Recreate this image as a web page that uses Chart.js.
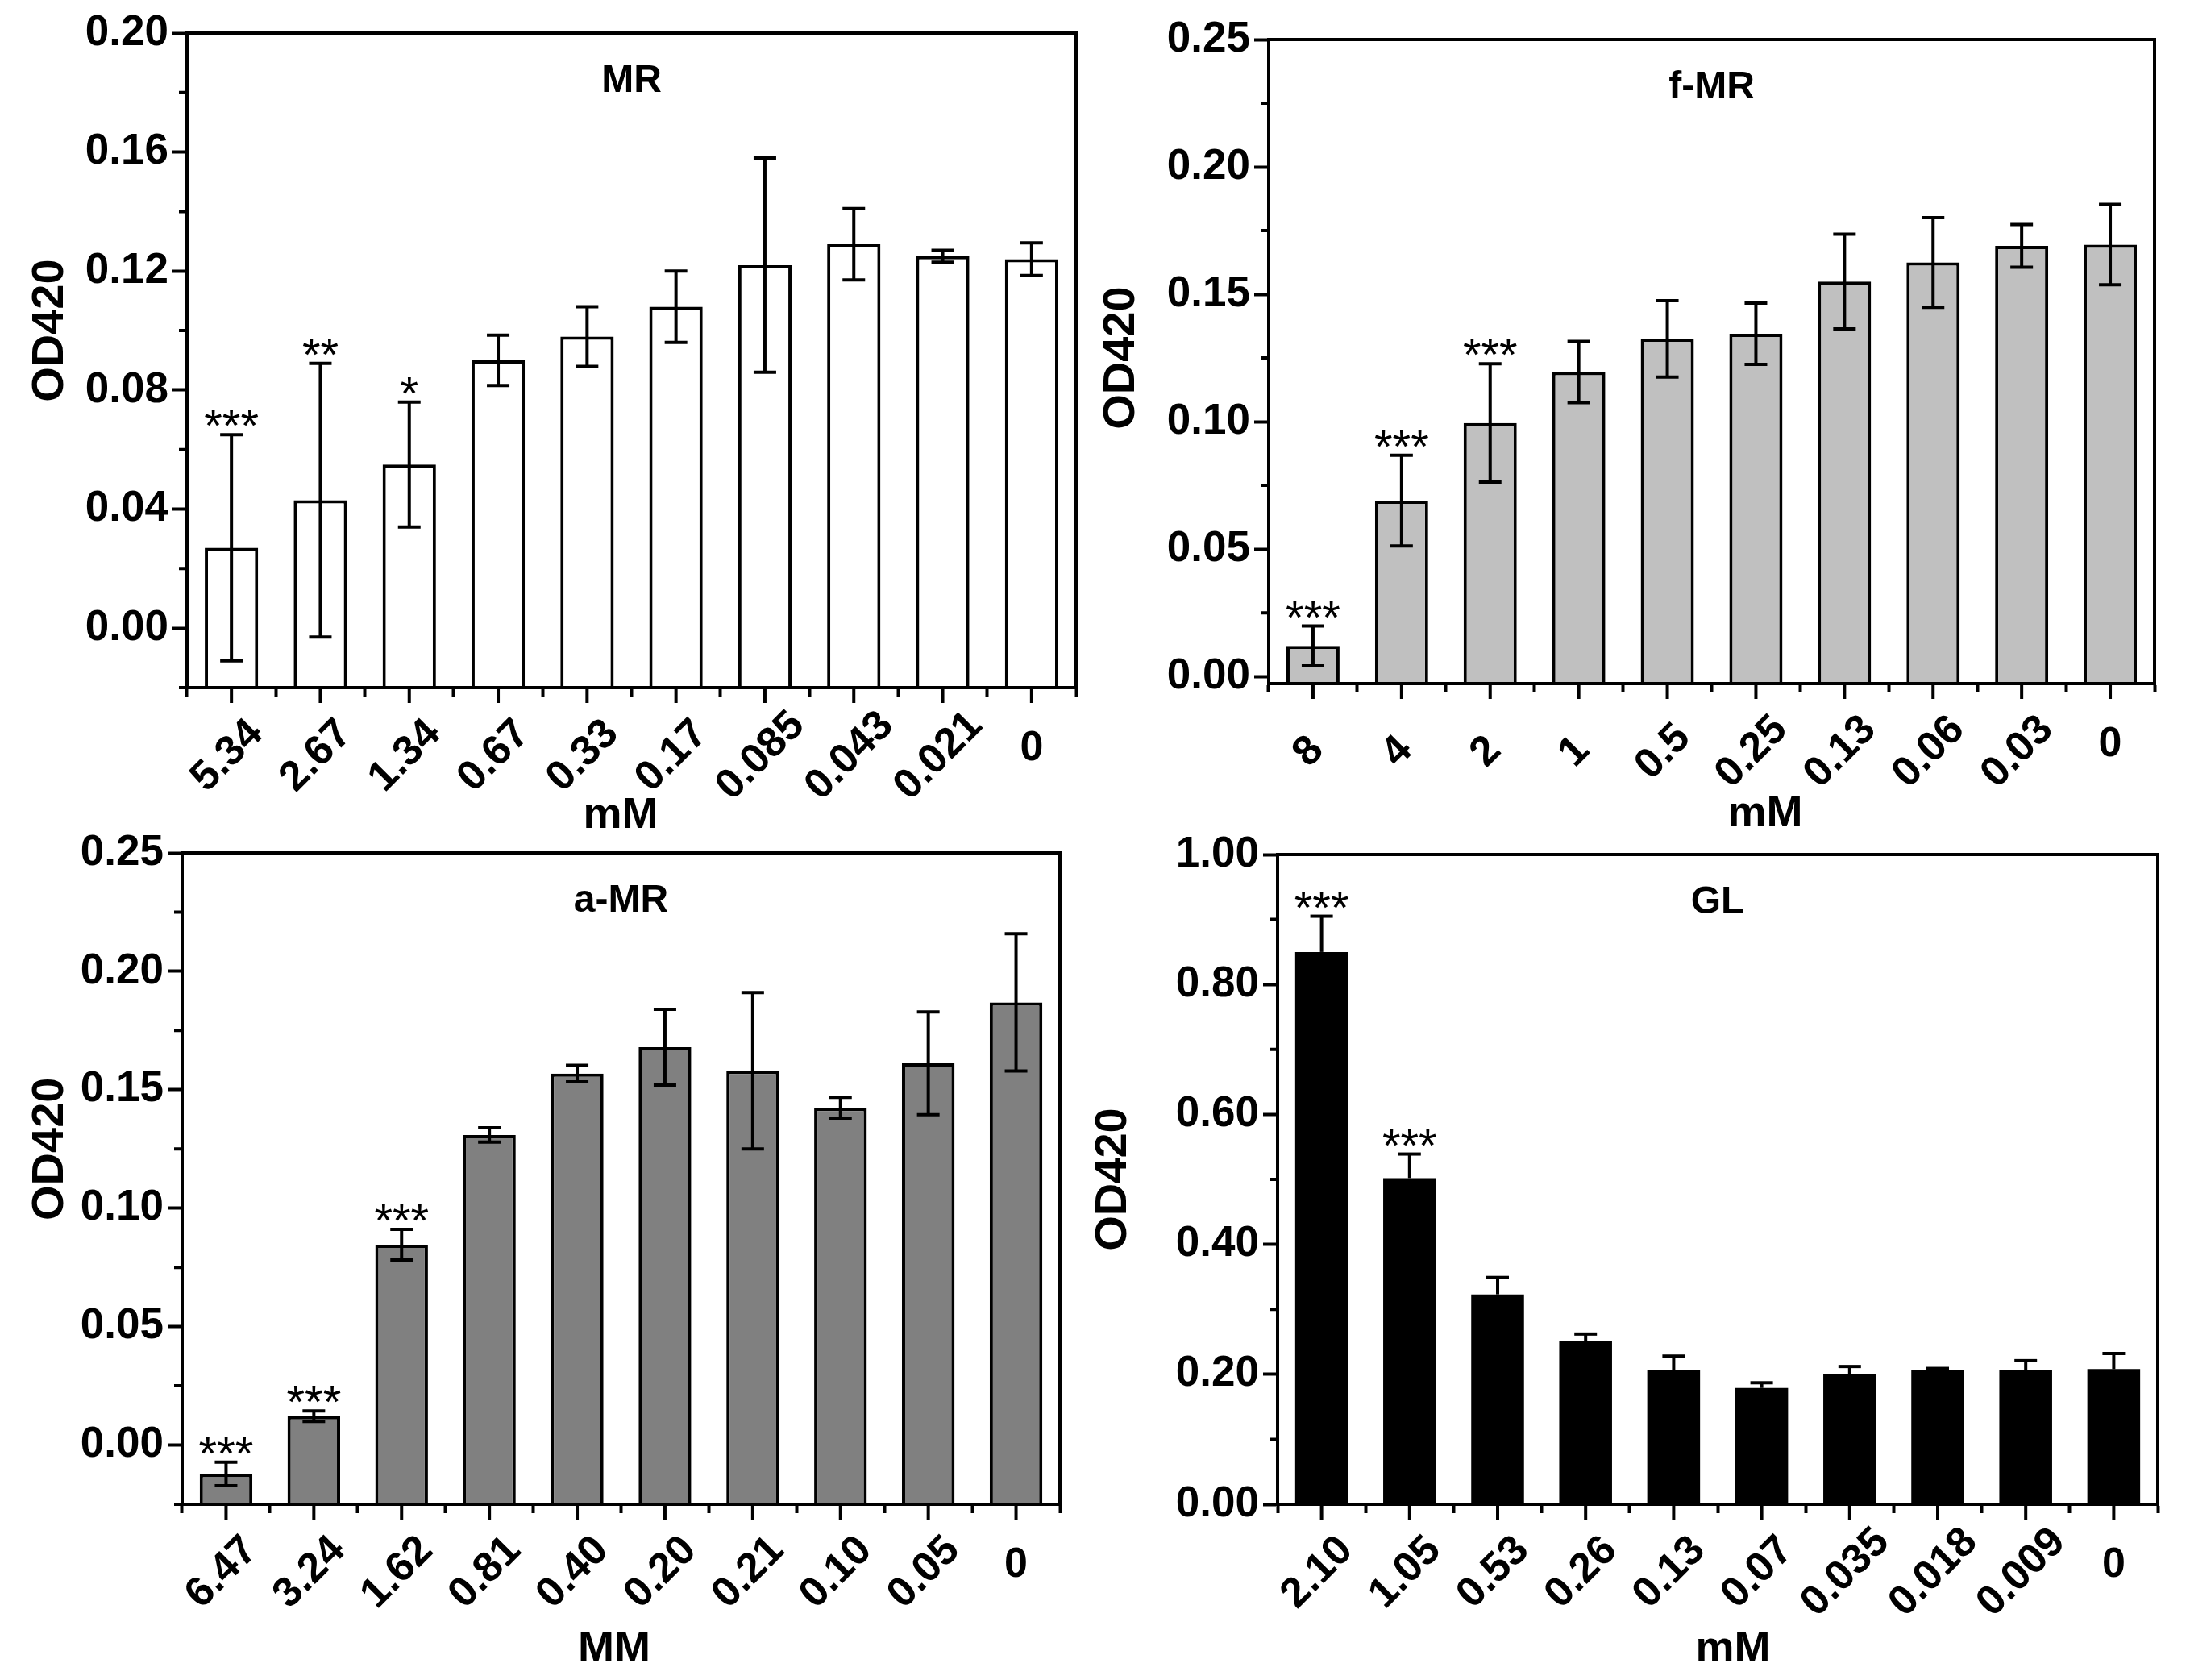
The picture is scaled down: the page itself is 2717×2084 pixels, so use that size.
<!DOCTYPE html>
<html>
<head>
<meta charset="utf-8">
<script src="https://cdn.jsdelivr.net/npm/chart.js@4.4.1/dist/chart.umd.min.js"></script>
<style>
html,body{margin:0;padding:0;background:#fff;}
#wrap{position:relative;width:2717px;height:2084px;background:#fff;overflow:hidden;}
canvas{position:absolute;}
</style>
</head>
<body>
<div id="wrap"></div>
<script>
// ---------- DATA ----------
const mrLabels  = ['5.34','2.67','1.34','0.67','0.33','0.17','0.085','0.043','0.021','0'];
const mrValues  = [0.027, 0.043, 0.055, 0.090, 0.098, 0.108, 0.122, 0.129, 0.125, 0.124];
const mrErrors  = [0.038, 0.046, 0.021, 0.0085, 0.010, 0.012, 0.036, 0.012, 0.002, 0.0055];
const mrStars   = ['***','**','*','','','','','','',''];
const mrTicks   = [0.00, 0.04, 0.08, 0.12, 0.16, 0.20];
const mrMinor   = [-0.02, 0.02, 0.06, 0.10, 0.14, 0.18];

const fmrLabels = ['8','4','2','1','0.5','0.25','0.13','0.06','0.03','0'];
const fmrValues = [0.012, 0.069, 0.0995, 0.1195, 0.1325, 0.1345, 0.155, 0.1625, 0.169, 0.1695];
const fmrErrors = [0.0078, 0.0178, 0.0232, 0.012, 0.015, 0.012, 0.0186, 0.0176, 0.0084, 0.0158];
const fmrStars  = ['***','***','***','','','','','','',''];
const fmrTicks  = [0.00, 0.05, 0.10, 0.15, 0.20, 0.25];
const fmrMinor  = [0.025, 0.075, 0.125, 0.175, 0.225];

const amrLabels = ['6.47','3.24','1.62','0.81','0.40','0.20','0.21','0.10','0.05','0'];
const amrValues = [-0.0122, 0.0122, 0.0846, 0.1309, 0.1568, 0.168, 0.158, 0.1424, 0.1612, 0.1869];
const amrErrors = [0.005, 0.0022, 0.0065, 0.003, 0.0035, 0.016, 0.033, 0.0044, 0.0217, 0.029];
const amrStars  = ['***','***','***','','','','','','',''];
const amrTicks  = [0.00, 0.05, 0.10, 0.15, 0.20, 0.25];
const amrMinor  = [-0.025, 0.025, 0.075, 0.125, 0.175, 0.225];

const glLabels  = ['2.10','1.05','0.53','0.26','0.13','0.07','0.035','0.018','0.009','0'];
const glValues  = [0.850, 0.502, 0.323, 0.251, 0.206, 0.179, 0.201, 0.207, 0.207, 0.208];
const glErrors  = [0.055, 0.037, 0.026, 0.011, 0.022, 0.008, 0.011, 0.002, 0.014, 0.024];
const glStars   = ['***','***','','','','','','','',''];
const glTicks   = [0.00, 0.20, 0.40, 0.60, 0.80, 1.00];
const glMinor   = [0.10, 0.30, 0.50, 0.70, 0.90];

// ---------- LAYOUT ----------
const FONT = '"Liberation Sans", Arial, Helvetica, sans-serif';
Chart.defaults.font.family = FONT;
Chart.defaults.color = '#000';

const panels = [
  {id:'p1', box:[0,0,1358,1060], plot:[232,41,1335,853], title:'MR', xTitle:'mM', xTitlePos:[770,1012], yTitleX:63,
   labels:mrLabels, values:mrValues, errors:mrErrors, stars:mrStars, ticks:mrTicks, minor:mrMinor,
   yMin:-0.02, yMax:0.20, fill:'#ffffff', border:4, upOnly:false},
  {id:'p2', box:[1358,0,1359,1060], plot:[1574,49,2673,848], title:'f-MR', xTitle:'mM', xTitlePos:[2190,1010], yTitleX:1392,
   labels:fmrLabels, values:fmrValues, errors:fmrErrors, stars:fmrStars, ticks:fmrTicks, minor:fmrMinor,
   yMin:-0.0028, yMax:0.25, fill:'#c0c0c0', border:4, upOnly:false},
  {id:'p3', box:[0,1000,1358,1084], plot:[226,1058,1315,1866], title:'a-MR', xTitle:'MM', xTitlePos:[762,2046], yTitleX:63,
   labels:amrLabels, values:amrValues, errors:amrErrors, stars:amrStars, ticks:amrTicks, minor:amrMinor,
   yMin:-0.025, yMax:0.25, fill:'#808080', border:4, upOnly:false},
  {id:'p4', box:[1358,1000,1359,1084], plot:[1585,1060,2677,1866], title:'GL', xTitle:'mM', xTitlePos:[2150,2046], yTitleX:1382,
   labels:glLabels, values:glValues, errors:glErrors, stars:glStars, ticks:glTicks, minor:glMinor,
   yMin:0, yMax:1.00, fill:'#000000', border:0, upOnly:true}
];

function makeDeco(p){
  const ox = p.box[0], oy = p.box[1];
  return {
    id: 'deco_' + p.id,
    afterDatasetsDraw(chart){
      const ctx = chart.ctx, y = chart.scales.y, meta = chart.getDatasetMeta(0);
      ctx.save();
      ctx.strokeStyle = '#000'; ctx.fillStyle = '#000';
      ctx.lineWidth = 4; ctx.lineCap = 'butt';
      meta.data.forEach((bar, i) => {
        const v = p.values[i], e = p.errors[i];
        const yt = y.getPixelForValue(v + e);
        const yb = p.upOnly ? y.getPixelForValue(v) : y.getPixelForValue(v - e);
        ctx.beginPath(); ctx.moveTo(bar.x, yb); ctx.lineTo(bar.x, yt); ctx.stroke();
        ctx.beginPath();
        ctx.moveTo(bar.x - 14, yt); ctx.lineTo(bar.x + 14, yt);
        if (!p.upOnly){ ctx.moveTo(bar.x - 14, yb); ctx.lineTo(bar.x + 14, yb); }
        ctx.stroke();
        const s = p.stars[i];
        if (s){
          ctx.font = '58px ' + FONT;
          ctx.textAlign = 'center'; ctx.textBaseline = 'alphabetic';
          const m = ctx.measureText(s);
          ctx.fillText(s, bar.x, yt - 10 - m.actualBoundingBoxDescent);
        }
      });
      ctx.restore();
    },
    afterDraw(chart){
      const ctx = chart.ctx, ca = chart.chartArea, x = chart.scales.x, y = chart.scales.y;
      ctx.save();
      ctx.strokeStyle = '#000'; ctx.fillStyle = '#000'; ctx.lineWidth = 4;
      // frame (axes redrawn on top of bars, plus top and right lines)
      ctx.beginPath();
      ctx.moveTo(ca.left - 2, ca.top); ctx.lineTo(ca.right + 2, ca.top);
      ctx.moveTo(ca.right, ca.top); ctx.lineTo(ca.right, ca.bottom);
      ctx.moveTo(ca.left - 2, ca.bottom); ctx.lineTo(ca.right + 2, ca.bottom);
      ctx.moveTo(ca.left, ca.top); ctx.lineTo(ca.left, ca.bottom + 2);
      ctx.stroke();
      // x major ticks at category centres
      ctx.beginPath();
      p.labels.forEach((l, i) => {
        const px = x.getPixelForValue(i);
        ctx.moveTo(px, ca.bottom); ctx.lineTo(px, ca.bottom + 19);
      });
      // y minor ticks
      p.minor.forEach(v => {
        const py = y.getPixelForValue(v);
        ctx.moveTo(ca.left - 10, py); ctx.lineTo(ca.left, py);
      });
      ctx.stroke();
      // x tick labels
      ctx.font = 'bold 52px ' + FONT;
      ctx.textAlign = 'center'; ctx.textBaseline = 'middle';
      p.labels.forEach((l, i) => {
        const px = x.getPixelForValue(i);
        if (l === '0'){
          ctx.fillText(l, px, ca.bottom + 76);
        } else {
          ctx.save();
          ctx.translate(px - 5, ca.bottom + 85);
          ctx.rotate(-Math.PI / 4);
          ctx.fillText(l, 0, 0);
          ctx.restore();
        }
      });
      // panel title
      ctx.font = 'bold 48px ' + FONT;
      ctx.fillText(p.title, (ca.left + ca.right) / 2, ca.top + 60);
      // x axis title
      ctx.font = 'bold 54px ' + FONT;
      ctx.fillText(p.xTitle, p.xTitlePos[0] - ox, p.xTitlePos[1] - oy);
      // y axis title
      const yc = (y.getPixelForValue(0) + y.getPixelForValue(p.yMax)) / 2;
      ctx.save();
      ctx.translate(p.yTitleX - ox, yc);
      ctx.rotate(-Math.PI / 2);
      ctx.font = 'bold 56px ' + FONT;
      ctx.fillText('OD420', 0, 0);
      ctx.restore();
      ctx.restore();
    }
  };
}

const wrap = document.getElementById('wrap');
panels.forEach(p => {
  const [bx, by, bw, bh] = p.box;
  const [L, T, R, B] = p.plot;
  const cv = document.createElement('canvas');
  cv.id = p.id;
  cv.width = bw; cv.height = bh;
  cv.style.left = bx + 'px'; cv.style.top = by + 'px';
  cv.style.width = bw + 'px'; cv.style.height = bh + 'px';
  wrap.appendChild(cv);

  new Chart(cv.getContext('2d'), {
    type: 'bar',
    data: {
      labels: p.labels,
      datasets: [{
        data: p.values,
        base: p.yMin,
        backgroundColor: p.fill,
        borderColor: '#000',
        borderWidth: p.border,
        borderSkipped: 'start',
        barPercentage: 0.6,
        categoryPercentage: 1.0
      }]
    },
    options: {
      responsive: false,
      maintainAspectRatio: false,
      animation: false,
      devicePixelRatio: 1,
      layout: { padding: { left: 0, top: T - by, right: (bx + bw) - R, bottom: 0 } },
      plugins: { legend: { display: false }, tooltip: { enabled: false }, title: { display: false } },
      scales: {
        x: {
          type: 'category',
          offset: true,
          grid: { display: true, offset: true, drawOnChartArea: false, drawTicks: true, tickLength: 11, tickWidth: 4, tickColor: '#000' },
          border: { display: true, color: '#000', width: 4 },
          ticks: { display: false },
          afterFit: s => { s.height = (by + bh) - B; }
        },
        y: {
          min: p.yMin,
          max: p.yMax,
          afterBuildTicks: s => { s.ticks = p.ticks.map(v => ({ value: v })); },
          ticks: {
            callback: v => Number(v).toFixed(2),
            font: { size: 53, weight: 'bold', family: FONT },
            color: '#000',
            padding: 5,
            autoSkip: false
          },
          grid: { display: true, drawOnChartArea: false, drawTicks: true, tickLength: 18, tickWidth: 4, tickColor: '#000' },
          border: { display: true, color: '#000', width: 4 },
          afterFit: s => { s.width = L - bx; }
        }
      }
    },
    plugins: [makeDeco(p)]
  });
});
</script>
</body>
</html>
